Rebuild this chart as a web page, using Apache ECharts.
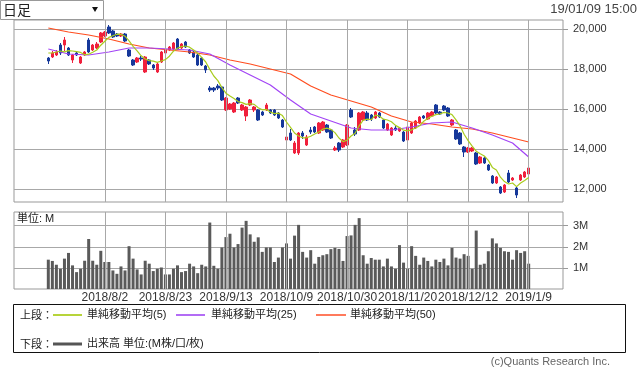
<!DOCTYPE html>
<html><head><meta charset="utf-8">
<script src="https://cdn.jsdelivr.net/npm/echarts@6/dist/echarts.min.js"></script>
<style>html,body{margin:0;padding:0;background:#fff}#c{width:639px;height:372px}</style>
</head><body><div id="c"></div>
<script>
const dates = [
'2018/7/12','2018/7/13','2018/7/17','2018/7/18','2018/7/19','2018/7/20','2018/7/23','2018/7/24','2018/7/25','2018/7/26','2018/7/27','2018/7/30','2018/7/31','2018/8/1',
'2018/8/2','2018/8/3','2018/8/6','2018/8/7','2018/8/8','2018/8/9','2018/8/10','2018/8/13','2018/8/14','2018/8/15','2018/8/16','2018/8/17','2018/8/20','2018/8/21','2018/8/22',
'2018/8/23','2018/8/24','2018/8/27','2018/8/28','2018/8/29','2018/8/30','2018/8/31','2018/9/3','2018/9/4','2018/9/5','2018/9/6','2018/9/7','2018/9/10','2018/9/11','2018/9/12',
'2018/9/13','2018/9/14','2018/9/18','2018/9/19','2018/9/20','2018/9/21','2018/9/25','2018/9/26','2018/9/27','2018/9/28','2018/10/1','2018/10/2','2018/10/3','2018/10/4','2018/10/5',
'2018/10/9','2018/10/10','2018/10/11','2018/10/12','2018/10/15','2018/10/16','2018/10/17','2018/10/18','2018/10/19','2018/10/22','2018/10/23','2018/10/24','2018/10/25','2018/10/26','2018/10/29',
'2018/10/30','2018/10/31','2018/11/1','2018/11/2','2018/11/5','2018/11/6','2018/11/7','2018/11/8','2018/11/9','2018/11/12','2018/11/13','2018/11/14','2018/11/15','2018/11/16','2018/11/19',
'2018/11/20','2018/11/21','2018/11/22','2018/11/26','2018/11/27','2018/11/28','2018/11/29','2018/11/30','2018/12/3','2018/12/4','2018/12/5','2018/12/6','2018/12/7','2018/12/10','2018/12/11',
'2018/12/12','2018/12/13','2018/12/14','2018/12/17','2018/12/18','2018/12/19','2018/12/20','2018/12/21','2018/12/25','2018/12/26','2018/12/27','2018/12/28','2019/1/4','2019/1/7','2019/1/8',
'2019/1/9'];
const open = [18550,18600,18700,19200,19200,19050,18450,18800,18300,18700,19450,18950,19050,19350,19650,20100,19900,19750,19650,19750,
18950,18450,18350,18550,17850,18450,18200,17850,18350,18800,18950,19000,19500,19050,19350,18950,18850,18700,18550,18150,
17050,17050,17150,17100,15950,16000,15850,16550,15950,15650,16200,15950,15950,15850,15950,15950,15950,15800,15450,14450,
14800,13800,13800,14800,14200,14950,15100,14800,14950,15200,14950,13950,14300,14100,14200,15950,14950,14950,15450,15800,
15700,15550,15800,15450,14950,14700,15050,14900,14850,14450,14800,15050,15300,15650,15500,15650,16200,15850,16150,16050,
15200,14950,14800,14100,13850,13900,13800,13300,13550,13200,12650,12300,12100,11850,12800,12450,12050,12450,12600,12750];
const close = [18400,18800,18850,18800,19450,18700,18700,18700,18600,18850,18850,19200,19250,19800,19850,19800,19600,19650,19750,19400,
18650,18200,18550,18500,18600,18250,18050,18250,18850,18950,19100,19300,19000,19250,19100,18800,18600,18200,18200,17950,
16950,16950,17050,16450,16550,16250,16300,16300,16200,16100,16450,16100,15450,15700,16200,15800,15700,15550,15100,14600,
14450,14300,14800,14650,14600,14850,14850,15300,15350,14850,14550,14050,13950,14450,15200,15600,14750,15800,15850,15450,
15500,15850,15600,15050,15250,15050,14950,15050,14400,15100,15300,15400,15600,15550,15800,15850,15800,15750,15950,15650,
15450,14500,14250,13850,14050,14050,13250,13600,13300,12950,12300,12600,11800,12200,12350,12550,11700,12700,12850,13050];
const low = [18250,18550,18650,18700,18900,18650,18300,18650,18250,18650,18800,18900,19000,19300,19600,19750,19550,19600,19600,19350,
18600,18150,18300,18400,17800,18200,17950,17800,18300,18750,18900,18950,18950,19000,19050,18750,18550,18150,18150,17800,
16850,16850,16950,16400,15900,15950,15800,16250,15900,15400,16150,15850,15400,15650,15900,15750,15650,15500,15050,14350,
14400,13750,13700,14500,14150,14750,14800,14750,14900,14800,14500,13900,13850,14050,14150,15550,14650,14900,15400,15400,
15400,15500,15550,15000,14900,14650,14900,14850,14350,14400,14750,15000,15250,15500,15450,15600,15750,15700,15900,15600,
15150,14450,14200,13600,13800,13850,13200,13250,13250,12900,12250,12250,11750,11800,12300,12400,11550,12400,12550,12700];
const high = [18600,18900,18950,19300,19600,19100,18750,18850,18650,18900,19550,19250,19350,19850,19900,20200,19950,19800,19800,19800,
19000,18500,18600,18650,18650,18500,18250,18300,18900,19000,19150,19350,19550,19300,19400,19000,18900,18750,18600,18200,
17150,17100,17250,17150,16600,16300,16350,16600,16250,16150,16500,16150,16000,15900,16300,16000,16000,15850,15500,14650,
15000,14400,14850,14900,14700,15100,15150,15350,15400,15250,15000,14150,14350,14500,15250,16050,15100,15850,15900,15900,
15750,15900,15850,15500,15300,15100,15150,15100,14900,15150,15350,15450,15650,15700,15850,15900,16250,15900,16200,16100,
15500,15000,14850,14150,14100,14100,13850,13650,13600,13250,12700,12650,12150,12250,12950,12600,12100,12750,12900,13100];
const volume = [1.39,1.33,1.15,0.96,1.44,1.71,1.12,0.8,0.96,1.34,2.37,1.34,1.15,1.81,1.28,1.28,0.88,0.72,1.07,0.88,
2.03,1.44,0.93,0.69,1.34,1.2,0.85,0.96,1.02,0.69,0.69,0.96,1.12,0.8,0.85,1.2,1.07,0.75,1.15,1.07,
3.15,1.1,0.96,1.97,2.46,2.62,1.97,2.13,2.91,3.23,2.59,2.24,2.45,1.76,1.97,1.97,1.28,1.49,1.97,2.16,
1.44,2.53,3.04,1.76,1.49,1.84,1.2,1.52,1.6,1.65,1.89,1.95,1.9,1.33,2.51,2.54,3.04,3.36,1.6,1.2,
1.47,1.39,1.39,1.07,1.44,1.07,0.96,2.08,1.25,0.96,2.03,1.57,1.15,1.49,1.33,1.07,1.39,1.28,1.44,1.12,
1.95,1.49,1.44,1.65,1.57,0.96,2.77,1.15,1.2,1.79,2.4,2.16,1.95,1.79,1.76,1.39,1.84,1.71,1.79,1.2];
const maIdx = [0,5,10,15,20,25,30,35,40,45,50,55,60,65,70,75,80,85,90,95,100,105,110,115,119];
const ma25 = [19000,18750,18700,18850,19050,19050,19000,18950,18750,18200,17700,17200,16450,15750,15400,15050,14950,14950,15100,15300,15350,15050,14700,14300,13600];
const ma50 = [20050,19850,19700,19500,19250,19050,18950,18850,18700,18450,18250,18000,17750,17150,16700,16400,16100,15650,15350,15250,15100,15000,14800,14550,14350];
const ma5Lead = [18800,18800,18850,18900];
const gridDates = ['2018/8/2','2018/8/23','2018/9/13','2018/10/9','2018/10/30','2018/11/20','2018/12/12','2019/1/9'];
const priceTicks = [12000,14000,16000,18000,20000];
const volTicks = [1,2,3];

const PAD = 8;
const cats = [];
for (let k = 0; k < PAD; k++) cats.push('L' + k);
dates.forEach(d => cats.push(d));
for (let k = 0; k < PAD; k++) cats.push('R' + k);
const N = cats.length;
const empty = () => new Array(N).fill('-');

const candle = empty().map(() => ['-','-','-','-']);
const vol = empty(), ma5s = empty(), ma25s = empty(), ma50s = empty();
dates.forEach((d, i) => {
  candle[PAD + i] = [open[i], close[i], low[i], high[i]];
  vol[PAD + i] = volume[i];
  ma5s[PAD + i] = i < 4 ? ma5Lead[i] : (close.slice(i - 4, i + 1).reduce((a, b) => a + b, 0) / 5);
});
maIdx.forEach((ix, k) => { ma25s[PAD + ix] = ma25[k]; ma50s[PAD + ix] = ma50[k]; });

const LAT = "'Liberation Sans', Arial, 'Noto Sans CJK JP', sans-serif";
const UP = '#f0203c', DOWN = '#16389a';
const GRIDC = '#a8a8a8';
const vLines = {
  silent: true, symbol: ['none', 'none'], animation: false,
  label: { show: false },
  lineStyle: { color: GRIDC, width: 1, type: 'solid' },
  data: gridDates.map(d => ({ xAxis: d }))
};

const chart = echarts.init(document.getElementById('c'), null, { renderer: 'canvas' });
chart.setOption({
  animation: false,
  backgroundColor: '#fff',
  grid: [
    { left: 14, right: 76, top: 20, height: 182, show: true, borderColor: '#999', borderWidth: 1, backgroundColor: '#fff' },
    { left: 14, right: 76, top: 212, height: 77, show: true, borderColor: '#999', borderWidth: 1, backgroundColor: '#fff' }
  ],
  xAxis: [
    { type: 'category', gridIndex: 0, data: cats, boundaryGap: true,
      axisLine: { show: false }, axisTick: { show: false }, axisLabel: { show: false }, splitLine: { show: false } },
    { type: 'category', gridIndex: 1, data: cats, boundaryGap: true,
      axisLine: { show: false }, axisTick: { show: false }, splitLine: { show: false },
      axisLabel: { show: true, interval: (idx, val) => gridDates.includes(val), fontSize: 12, color: '#333', margin: 3, fontFamily: LAT } }
  ],
  yAxis: [
    { type: 'value', gridIndex: 0, position: 'right', min: 11350, max: 20450, splitNumber: 5,
      axisLine: { show: false },
      axisTick: { show: true, length: 5, lineStyle: { color: '#999' }, customValues: priceTicks },
      axisLabel: { show: true, customValues: priceTicks, margin: 10, fontSize: 11, color: '#333', fontFamily: LAT,
        formatter: v => String(v).replace(/\B(?=(\d{3})+(?!\d))/g, ',') },
      splitLine: { show: true, lineStyle: { color: GRIDC, width: 1 } } },
    { type: 'value', gridIndex: 1, position: 'right', min: 0, max: 3.65, splitNumber: 4,
      axisLine: { show: false },
      axisTick: { show: true, length: 5, lineStyle: { color: '#999' }, customValues: volTicks },
      axisLabel: { show: true, customValues: volTicks, margin: 10, fontSize: 11, color: '#333', fontFamily: LAT,
        formatter: v => v + 'M' },
      splitLine: { show: true, lineStyle: { color: GRIDC, width: 1 } } }
  ],
  series: [
    { type: 'line', xAxisIndex: 0, yAxisIndex: 0, data: empty(), z: 1, showSymbol: false, markLine: vLines },
    { type: 'line', xAxisIndex: 1, yAxisIndex: 1, data: empty(), z: 1, showSymbol: false, markLine: vLines },
    { type: 'candlestick', xAxisIndex: 0, yAxisIndex: 0, data: candle, barWidth: 3, z: 3,
      itemStyle: { color: UP, color0: DOWN, borderColor: UP, borderColor0: DOWN, borderWidth: 1 } },
    { type: 'line', name: 'ma50', xAxisIndex: 0, yAxisIndex: 0, data: ma50s, connectNulls: true, showSymbol: false, z: 4,
      lineStyle: { color: '#ff4d1f', width: 1.2 } },
    { type: 'line', name: 'ma25', xAxisIndex: 0, yAxisIndex: 0, data: ma25s, connectNulls: true, showSymbol: false, z: 4,
      lineStyle: { color: '#a244f5', width: 1.2 } },
    { type: 'line', name: 'ma5', xAxisIndex: 0, yAxisIndex: 0, data: ma5s, showSymbol: false, z: 5,
      lineStyle: { color: '#a9cc1e', width: 1.2 } },
    { type: 'bar', xAxisIndex: 1, yAxisIndex: 1, data: vol, barWidth: 3, z: 3, itemStyle: { color: '#5a5a5a' } }
  ],
  graphic: { elements: [
    { type: 'rect', shape: { x: 0.5, y: 0.5, width: 103, height: 19 }, style: { fill: '#fff', stroke: '#999', lineWidth: 1 } },
    { type: 'text', x: 3, y: 10, style: { text: '日足', font: "14px 'Noto Sans CJK JP', sans-serif", fill: '#222', verticalAlign: 'middle', align: 'left' } },
    { type: 'polygon', shape: { points: [[92, 7], [98, 7], [95, 12]] }, style: { fill: '#111' } },
    { type: 'text', x: 637, y: 9, style: { text: '19/01/09 15:00', font: "13px 'Liberation Sans', Arial, sans-serif", fill: '#444', verticalAlign: 'middle', align: 'right' } },
    { type: 'text', x: 17, y: 219, style: { text: '単位: M', font: "11px 'Liberation Sans', 'Noto Sans CJK JP', sans-serif", fill: '#222', verticalAlign: 'middle', align: 'left' } },
    { type: 'rect', shape: { x: 13.5, y: 304.5, width: 612, height: 48 }, style: { fill: 'none', stroke: '#111', lineWidth: 1 } },
    { type: 'text', x: 20, y: 315, style: { text: '上段：', font: "11px 'Noto Sans CJK JP', sans-serif", fill: '#222', verticalAlign: 'middle' } },
    { type: 'line', shape: { x1: 53, y1: 315, x2: 82, y2: 315 }, style: { stroke: '#b7d43a', lineWidth: 2 } },
    { type: 'text', x: 87, y: 315, style: { text: '単純移動平均(5)', font: "11px 'Liberation Sans', 'Noto Sans CJK JP', sans-serif", fill: '#222', verticalAlign: 'middle' } },
    { type: 'line', shape: { x1: 176, y1: 315, x2: 205, y2: 315 }, style: { stroke: '#b36cf5', lineWidth: 2 } },
    { type: 'text', x: 211, y: 315, style: { text: '単純移動平均(25)', font: "11px 'Liberation Sans', 'Noto Sans CJK JP', sans-serif", fill: '#222', verticalAlign: 'middle' } },
    { type: 'line', shape: { x1: 316, y1: 315, x2: 346, y2: 315 }, style: { stroke: '#ff7a5c', lineWidth: 2 } },
    { type: 'text', x: 350, y: 315, style: { text: '単純移動平均(50)', font: "11px 'Liberation Sans', 'Noto Sans CJK JP', sans-serif", fill: '#222', verticalAlign: 'middle' } },
    { type: 'text', x: 20, y: 344, style: { text: '下段：', font: "11px 'Noto Sans CJK JP', sans-serif", fill: '#222', verticalAlign: 'middle' } },
    { type: 'line', shape: { x1: 53, y1: 344, x2: 82, y2: 344 }, style: { stroke: '#555', lineWidth: 3 } },
    { type: 'text', x: 87, y: 344, style: { text: '出来高 単位:(M株/口/枚)', font: "11px 'Liberation Sans', 'Noto Sans CJK JP', sans-serif", fill: '#222', verticalAlign: 'middle' } },
    { type: 'text', x: 610, y: 362, style: { text: '(c)Quants Research Inc.', font: "11px 'Liberation Sans', Arial, sans-serif", fill: '#666', verticalAlign: 'middle', align: 'right' } }
  ] }
});
</script>
</body></html>
